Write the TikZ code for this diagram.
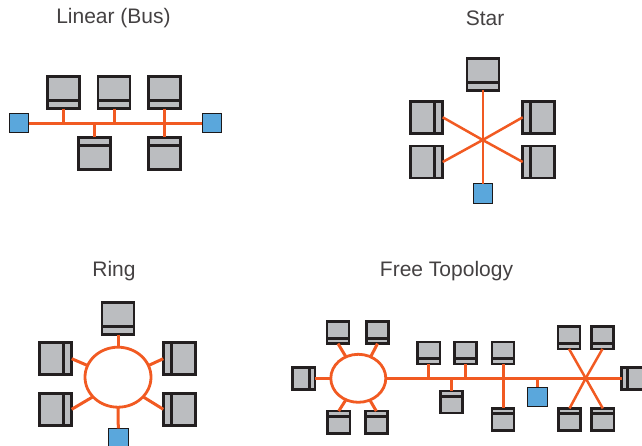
\documentclass[tikz,border=0pt]{standalone}
\usepackage{fontspec}
\setmainfont{Liberation Sans}
\usetikzlibrary{calc,shapes.geometric}
\definecolor{ink}{HTML}{231F20}
\definecolor{body}{HTML}{BBBDC0}
\definecolor{wire}{HTML}{F15A22}
\definecolor{hubblue}{HTML}{5AA7DC}
\tikzset{
  comp/.style={rectangle,draw=ink,fill=body,line width=2.6pt,inner sep=0pt,outer sep=0pt,minimum size=32pt},
  small/.style={minimum size=22.2pt},
  barS/.style={path picture={\draw[ink,line width=3pt]
    ($(path picture bounding box.south west)!.25!(path picture bounding box.north west)$) --
    ($(path picture bounding box.south east)!.25!(path picture bounding box.north east)$);}},
  barN/.style={path picture={\draw[ink,line width=3pt]
    ($(path picture bounding box.north west)!.25!(path picture bounding box.south west)$) --
    ($(path picture bounding box.north east)!.25!(path picture bounding box.south east)$);}},
  barE/.style={path picture={\draw[ink,line width=3pt]
    ($(path picture bounding box.south east)!.25!(path picture bounding box.south west)$) --
    ($(path picture bounding box.north east)!.25!(path picture bounding box.north west)$);}},
  barW/.style={path picture={\draw[ink,line width=3pt]
    ($(path picture bounding box.south west)!.25!(path picture bounding box.south east)$) --
    ($(path picture bounding box.north west)!.25!(path picture bounding box.north east)$);}},
  term/.style={rectangle,draw=ink!80!black,fill=hubblue,line width=1pt,inner sep=0pt,outer sep=0pt,minimum size=19.4pt},
  ringnode/.style={ellipse,draw=wire,line width=2.8pt,inner sep=0pt,outer sep=0pt},
  wireline/.style={draw=wire,line width=3pt},
  thinwire/.style={draw=wire,line width=2.5pt},
  title/.style={font=\fontsize{21}{25}\selectfont,text=ink!85,inner sep=0pt}
}
\begin{document}
\begin{tikzpicture}[x=1pt,y=-1pt]
\useasboundingbox (0,0) rectangle (642,446);
% Titles
\node[title] (tLinear) at (113.5,18.5) {Linear (Bus)};
\node[title] (tStar) at (485,18.5) {Star};
\node[title] (tRing) at (114,271.5) {Ring};
\node[title] (tFree) at (446.5,271.5) {Free Topology};
% Linear
\node[comp,barS] (la) at (63.3,92.6) {};
\node[comp,barS] (lb) at (114,92.6) {};
\node[comp,barS] (lc) at (164.7,92.6) {};
\node[comp,barN] (ld) at (94.3,153.3) {};
\node[comp,barN] (le) at (164.7,153.3) {};
\node[term] (lL) at (19,123.3) {};
\node[term] (lR) at (211.7,123.3) {};
\draw[wireline] (lL.east) -- (lR.west);
\draw[wireline] (la.south) -- (la.south |- lL.east);
\draw[wireline] (lb.south) -- (lb.south |- lL.east);
\draw[wireline] (lc.south) -- (le.north);
\draw[wireline] (ld.north) -- (ld.north |- lL.east);
% Star
\coordinate (sHub) at (482.7,140);
\node[comp,barS] (st) at (483,74.3) {};
\node[comp,barE] (sl1) at (426.7,117.3) {};
\node[comp,barE] (sl2) at (426.7,162) {};
\node[comp,barW] (sr1) at (538.7,117.3) {};
\node[comp,barW] (sr2) at (538.7,162) {};
\node[term] (sb) at (483,193.7) {};
\draw[thinwire] (st.south) -- (sb.north);
\draw[thinwire] (sl1.east) -- (sHub) -- (sr2.west);
\draw[thinwire] (sl2.east) -- (sHub) -- (sr1.west);
% Ring
\node[ringnode,minimum width=66pt,minimum height=60pt] (rr) at (118,377.2) {};
\node[comp,barS] (rt) at (118,318.7) {};
\node[comp,barE] (rl1) at (55.7,358.7) {};
\node[comp,barE] (rl2) at (55.7,409.3) {};
\node[comp,barW] (rr1) at (179.3,358.7) {};
\node[comp,barW] (rr2) at (179.3,409.3) {};
\node[term] (rb) at (118.3,438) {};
\draw[wireline] (rt.south) -- (rr.north);
\draw[wireline] (rb.north) -- (rr.south);
\draw[wireline] (rl1.east) -- (rr.159);
\draw[wireline] (rl2.east) -- (rr.218.6);
\draw[wireline] (rr1.west) -- (rr.21);
\draw[wireline] (rr2.west) -- (rr.-38.6);
% Free topology: ring part
\node[ringnode,minimum width=55pt,minimum height=48pt] (fr) at (358.3,378.3) {};
\node[comp,small,barS] (fa) at (338,332.5) {};
\node[comp,small,barS] (fb) at (377.5,332.5) {};
\node[comp,small,barE] (fc) at (303.8,378.3) {};
\node[comp,small,barN] (fd) at (338.7,422.2) {};
\node[comp,small,barN] (fe) at (376.3,422.2) {};
\draw[wireline] (fa.south) -- (fr.120.6);
\draw[wireline] (fb.south) -- (fr.60);
\draw[wireline] (fc.east) -- (fr.west);
\draw[wireline] (fd.north) -- (fr.240.7);
\draw[wireline] (fe.north) -- (fr.298.7);
% Free topology: bus part
\node[comp,small,barS] (ff) at (428.7,353) {};
\node[comp,small,barS] (fg) at (465.3,353) {};
\node[comp,small,barS] (fh) at (503,353) {};
\node[comp,small,barN] (fi) at (451.3,402) {};
\node[comp,small,barN] (fj) at (503,419.5) {};
\node[term] (fk) at (537.3,396.7) {};
% Free topology: star part
\coordinate (fHub) at (585.7,378.3);
\node[comp,small,barS] (fl) at (569,337.8) {};
\node[comp,small,barS] (fm) at (602.5,337.8) {};
\node[comp,small,barN] (fn) at (569.5,419.5) {};
\node[comp,small,barN] (fo) at (602.8,419.5) {};
\node[comp,small,barW] (fp) at (632.7,378.3) {};
\draw[thinwire] (fr.east) -- (fHub) -- (fp.west);
\draw[thinwire] (ff.south) -- (ff.south |- fHub);
\draw[thinwire] (fg.south) -- (fg.south |- fHub);
\draw[wireline] (fh.south) -- (fj.north);
\draw[thinwire] (fi.north) -- (fi.north |- fHub);
\draw[thinwire] (fk.north) -- (fk.north |- fHub);
\draw[thinwire] (fl.south) -- (fHub) -- (fo.north);
\draw[thinwire] (fm.south) -- (fHub) -- (fn.north);
\end{tikzpicture}
\end{document}
